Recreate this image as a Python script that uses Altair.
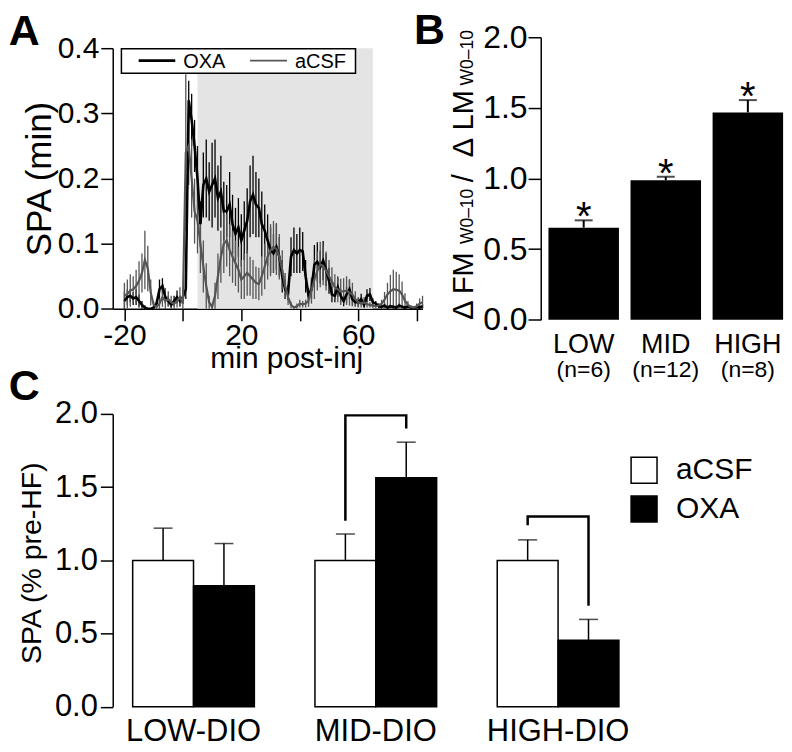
import altair as alt
import pandas as pd

FONT = "Liberation Sans"
GRAY = "#555555"
SHADE_COLOR = "#e4e4e4"

# ---------------- Panel A data ----------------
TIME = list(range(-20, 83))
OXA_MEAN = [
    0.012, 0.018, 0.020, 0.016, 0.018, 0.012, 0.006, 0.002, 0.000, 0.000,
    0.002, 0.008, 0.030, 0.035, 0.018, 0.012, 0.006, 0.012, 0.018, 0.012,
    0.018, 0.030, 0.320, 0.290, 0.250, 0.200, 0.130, 0.190, 0.200, 0.180,
    0.190, 0.200, 0.170, 0.180, 0.150, 0.150, 0.160, 0.130, 0.115, 0.125,
    0.105, 0.120, 0.135, 0.165, 0.175, 0.160, 0.155, 0.130, 0.120, 0.105,
    0.090, 0.085, 0.095, 0.080, 0.050, 0.030, 0.025, 0.080, 0.090, 0.085,
    0.090, 0.088, 0.050, 0.020, 0.030, 0.068, 0.072, 0.064, 0.074, 0.060,
    0.043, 0.022, 0.020, 0.033, 0.020, 0.012, 0.022, 0.030, 0.015, 0.010,
    0.010, 0.015, 0.006, 0.020, 0.022, 0.010, 0.008, 0.004, 0.003, 0.005,
    0.002, 0.004, 0.003, 0.002, 0.005, 0.003, 0.002, 0.004, 0.002, 0.001,
    0.003, 0.002, 0.004,
]
OXA_SEM = [
    0.015, 0.012, 0.010, 0.010, 0.012, 0.010, 0.006, 0.003, 0.001, 0.001,
    0.002, 0.006, 0.015, 0.012, 0.010, 0.008, 0.005, 0.008, 0.010, 0.008,
    0.010, 0.015, 0.030, 0.040, 0.040, 0.050, 0.035, 0.050, 0.060, 0.045,
    0.065, 0.060, 0.050, 0.055, 0.045, 0.040, 0.050, 0.045, 0.040, 0.045,
    0.040, 0.045, 0.050, 0.055, 0.060, 0.050, 0.045, 0.050, 0.040, 0.040,
    0.035, 0.030, 0.035, 0.030, 0.025, 0.015, 0.012, 0.030, 0.035, 0.030,
    0.035, 0.030, 0.025, 0.012, 0.015, 0.030, 0.030, 0.025, 0.030, 0.025,
    0.020, 0.012, 0.010, 0.015, 0.010, 0.008, 0.012, 0.015, 0.010, 0.006,
    0.006, 0.008, 0.004, 0.010, 0.010, 0.006, 0.004, 0.003, 0.002, 0.003,
    0.002, 0.003, 0.002, 0.002, 0.003, 0.002, 0.002, 0.003, 0.002, 0.001,
    0.002, 0.002, 0.003,
]
ACSF_MEAN = [
    0.020, 0.023, 0.028, 0.030, 0.035, 0.043, 0.055, 0.075, 0.062, 0.025,
    0.006, 0.003, 0.008, 0.018, 0.012, 0.015, 0.010, 0.008, 0.012, 0.018,
    0.008, 0.240, 0.250, 0.200, 0.150, 0.135, 0.100, 0.065, 0.035, 0.010,
    0.003, 0.020, 0.050, 0.080, 0.100, 0.105, 0.090, 0.080, 0.070, 0.060,
    0.045, 0.050, 0.055, 0.050, 0.045, 0.040, 0.038, 0.050, 0.065, 0.080,
    0.090, 0.095, 0.092, 0.080, 0.060, 0.035, 0.018, 0.006, 0.002, 0.004,
    0.008, 0.007, 0.008, 0.013, 0.028, 0.045, 0.058, 0.068, 0.066, 0.058,
    0.050, 0.042, 0.033, 0.030, 0.026, 0.027, 0.028, 0.025, 0.022, 0.015,
    0.010, 0.008, 0.010, 0.007, 0.006, 0.005, 0.004, 0.005, 0.008, 0.014,
    0.022, 0.027, 0.030, 0.029, 0.028, 0.022, 0.012, 0.006, 0.003, 0.002,
    0.004, 0.008, 0.010,
]
ACSF_SEM = [
    0.020, 0.022, 0.025, 0.020, 0.025, 0.030, 0.030, 0.045, 0.035, 0.020,
    0.005, 0.003, 0.008, 0.015, 0.020, 0.012, 0.010, 0.008, 0.010, 0.015,
    0.008, 0.120, 0.060, 0.060, 0.050, 0.050, 0.045, 0.040, 0.035, 0.010,
    0.003, 0.020, 0.035, 0.040, 0.045, 0.040, 0.040, 0.040, 0.035, 0.035,
    0.030, 0.035, 0.035, 0.030, 0.030, 0.025, 0.025, 0.030, 0.035, 0.035,
    0.040, 0.040, 0.040, 0.035, 0.030, 0.020, 0.012, 0.005, 0.002, 0.004,
    0.006, 0.005, 0.006, 0.010, 0.020, 0.030, 0.030, 0.035, 0.030, 0.030,
    0.025, 0.022, 0.020, 0.020, 0.020, 0.020, 0.022, 0.020, 0.018, 0.012,
    0.008, 0.006, 0.008, 0.005, 0.004, 0.004, 0.003, 0.004, 0.006, 0.012,
    0.018, 0.025, 0.030, 0.028, 0.025, 0.020, 0.012, 0.006, 0.003, 0.002,
    0.004, 0.008, 0.010,
]
SERIES = ["OXA", "aCSF"]
SHADE = [5, 65]
SHADE_TOP = 0.4
A_XTICKS = [-20, 0, 20, 40, 60, 80]
A_YTICKS = [0.0, 0.1, 0.2, 0.3, 0.4]

# ---------------- Panel B data ----------------
B_GROUPS = ["LOW", "MID", "HIGH"]
B_N = ["(n=6)", "(n=12)", "(n=8)"]
B_MEAN = [0.652, 0.988, 1.468]
B_SEM = [0.052, 0.024, 0.087]
B_YTICKS = [0.0, 0.5, 1.0, 1.5, 2.0]

# ---------------- Panel C data ----------------
C_GROUPS = ["LOW-DIO", "MID-DIO", "HIGH-DIO"]
C_TREAT = ["aCSF", "OXA"]
C_ACSF_MEAN = [1.0, 1.0, 1.0]
C_ACSF_SEM = [0.22, 0.18, 0.14]
C_OXA_MEAN = [0.826, 1.564, 0.454]
C_OXA_SEM = [0.289, 0.243, 0.143]
BRACKET_GROUP = ["MID-DIO"] * 4 + ["HIGH-DIO"] * 4
BRACKET_TREAT = ["aCSF", "aCSF", "OXA", "OXA"] * 2
BRACKET_Y = [1.27, 1.99, 1.99, 1.90, 1.24, 1.30, 1.30, 0.69]
BRACKET_ORDER = [0, 1, 2, 3] * 2
C_YTICKS = [0.0, 0.5, 1.0, 1.5, 2.0]

one = pd.DataFrame({"k": [0]})

# ================= Panel A =================
A_W, A_H = 310.6, 261.3
dfA = pd.concat([
    pd.DataFrame({"t": TIME, "series": "OXA", "mean": OXA_MEAN, "sem": OXA_SEM}),
    pd.DataFrame({"t": TIME, "series": "aCSF", "mean": ACSF_MEAN, "sem": ACSF_SEM}),
], ignore_index=True)
dfA["lo"] = (dfA["mean"] - dfA["sem"]).clip(lower=0)
dfA["hi"] = dfA["mean"] + dfA["sem"]

xA = alt.Scale(domain=[-24, 82], nice=False, zero=False)
yA = alt.Scale(domain=[0, 0.4], nice=False, zero=True)
colA = alt.Scale(domain=SERIES, range=["black", GRAY])
widA = alt.Scale(domain=SERIES, range=[2.6, 2.2])

axAx = alt.Axis(values=A_XTICKS, labelExpr="(datum.value + 20) % 40 == 0 ? toString(datum.value) : ''",
                tickSize=12, labelPadding=24, labelFontSize=30, labelBaseline="alphabetic",
                labelFlush=False, labelOverlap=False, title="min post-inj", titleFontSize=30,
                titleX=174, titleY=59, titleBaseline="alphabetic", titleAlign="center", grid=False)
axAy = alt.Axis(values=A_YTICKS, format=".1f", tickSize=12, labelPadding=2, labelFontSize=30,
                labelFlush=False, labelOverlap=False, title="SPA (min)", titleFontSize=35,
                titleX=-62, titleY=A_H / 2, titleAngle=270, titleBaseline="alphabetic",
                titleAlign="center", grid=False)

shade = alt.Chart(pd.DataFrame({"start": [SHADE[0]], "end": [SHADE[1]], "bottom": [0.0], "top": [SHADE_TOP]})).mark_rect(
    color=SHADE_COLOR).encode(
    x=alt.X("start:Q", scale=xA, axis=axAx),
    x2="end:Q",
    y=alt.Y("bottom:Q", scale=yA, axis=axAy),
    y2="top:Q",
)
errA = alt.Chart(dfA).mark_rule(strokeWidth=1.3).encode(
    x=alt.X("t:Q", scale=xA, axis=axAx),
    y=alt.Y("lo:Q", scale=yA, axis=axAy),
    y2="hi:Q",
    color=alt.Color("series:N", scale=colA, legend=None),
)
lineA = alt.Chart(dfA).mark_line().encode(
    x=alt.X("t:Q", scale=xA, axis=axAx),
    y=alt.Y("mean:Q", scale=yA, axis=axAy),
    color=alt.Color("series:N", scale=colA, legend=None),
    strokeWidth=alt.StrokeWidth("series:N", scale=widA, legend=None),
)

legBox = alt.Chart(one).mark_rect(fill="white", stroke="black", strokeWidth=1.5).encode(
    x=alt.value(8.7), x2=alt.value(243.4), y=alt.value(0.6), y2=alt.value(25))
legL1 = alt.Chart(one).mark_rule(color="black", strokeWidth=2.6).encode(
    x=alt.value(26), x2=alt.value(62.7), y=alt.value(12.5))
legL2 = alt.Chart(one).mark_rule(color=GRAY, strokeWidth=1.6).encode(
    x=alt.value(137.7), x2=alt.value(174.7), y=alt.value(12.5))
legT1 = alt.Chart(one).mark_text(text=SERIES[0], fontSize=20, align="left", baseline="alphabetic", color="black").encode(
    x=alt.value(70.7), y=alt.value(20))
legT2 = alt.Chart(one).mark_text(text=SERIES[1], fontSize=20, align="left", baseline="alphabetic", color="black").encode(
    x=alt.value(182.7), y=alt.value(20))
letterA = alt.Chart(one).mark_text(text="A", fontSize=43, fontWeight="bold", align="left", baseline="top", color="black").encode(
    x=alt.value(-104.3), y=alt.value(-37.7))

panelA = alt.layer(shade, errA, lineA, legBox, legL1, legL2, legT1, legT2, letterA).properties(width=A_W, height=A_H)

# ================= Panel B =================
B_W, B_H = 243, 283.3
dfB = pd.DataFrame({"group": B_GROUPS, "mean": B_MEAN, "sem": B_SEM, "n": B_N})
dfB["top"] = dfB["mean"] + dfB["sem"]
xB = alt.Scale(domain=B_GROUPS, paddingInner=0.141, paddingOuter=0.047, align=1)
yB = alt.Scale(domain=[0, 2], nice=False)
axBx = alt.Axis(domain=False, ticks=False, tickSize=0, labelPadding=33, labelBaseline="alphabetic",
                labelFontSize=27, labelAngle=0, title=None, grid=False)
axBy = alt.Axis(values=B_YTICKS, format=".1f", tickSize=12.7, labelPadding=1, labelFontSize=32,
                labelFlush=False, labelOverlap=False, title=None, grid=False)
xBenc = alt.X("group:N", scale=xB, sort=B_GROUPS, axis=axBx)

barsB = alt.Chart(dfB).mark_bar(color="black").encode(
    x=xBenc, y=alt.Y("mean:Q", scale=yB, axis=axBy))
errB = alt.Chart(dfB).mark_rule(color="black", strokeWidth=2).encode(
    x=xBenc, y=alt.Y("mean:Q", scale=yB, axis=axBy), y2="top:Q")
capB = alt.Chart(dfB).mark_tick(orient="horizontal", size=18, thickness=2, color="black").encode(
    x=xBenc, y=alt.Y("top:Q", scale=yB, axis=axBy))
starB = alt.Chart(dfB).mark_text(text="*", fontSize=40, baseline="alphabetic", dy=10, color="black").encode(
    x=xBenc, y=alt.Y("top:Q", scale=yB, axis=axBy))
nB = alt.Chart(dfB).mark_text(fontSize=23, baseline="alphabetic", color="black").encode(
    x=xBenc, y=alt.value(340.3), text="n:N")
titleB = alt.Chart(pd.DataFrame({
    "piece": ["Δ FM", "W0–10", "/", "Δ", "LM", "W0–10"],
    "pos": [283.3, 207.3, 145.3, 120.3, 93.3, 48.3],
    "size": [29, 17.5, 29, 29, 29, 17.5],
})).mark_text(angle=270, align="left", baseline="alphabetic", color="black").encode(
    x=alt.value(-68),
    y=alt.Y("pos:Q", scale=None),
    size=alt.Size("size:Q", scale=None, legend=None),
    text="piece:N",
)
letterB = alt.Chart(one).mark_text(text="B", fontSize=43, fontWeight="bold", align="left", baseline="top", color="black").encode(
    x=alt.value(-127), y=alt.value(-27.7))

panelB = alt.layer(barsB, errB, capB, starB, nB, titleB, letterB).properties(width=B_W, height=B_H)

# ================= Panel C =================
C_W, C_H = 527.5, 293.7
dfC = pd.DataFrame({
    "group": C_GROUPS * 2,
    "treatment": [C_TREAT[0]] * 3 + [C_TREAT[1]] * 3,
    "mean": C_ACSF_MEAN + C_OXA_MEAN,
    "sem": C_ACSF_SEM + C_OXA_SEM,
})
dfC["top"] = dfC["mean"] + dfC["sem"]
dfBr = pd.DataFrame({"group": BRACKET_GROUP, "treatment": BRACKET_TREAT, "y": BRACKET_Y, "order": BRACKET_ORDER})

xC = alt.Scale(domain=C_GROUPS, paddingInner=0.3324, paddingOuter=0.1094)
xoC = alt.Scale(domain=C_TREAT, paddingInner=0, paddingOuter=0)
yC = alt.Scale(domain=[0, 2], nice=False)
axCx = alt.Axis(domain=False, ticks=False, tickSize=0, labelPadding=34, labelBaseline="alphabetic",
                labelFontSize=31, labelAngle=0, title=None, grid=False)
axCy = alt.Axis(values=C_YTICKS, format=".1f", tickSize=12.4, labelPadding=3, labelFontSize=31,
                labelFlush=False, labelOverlap=False, title="SPA (% pre-HF)", titleFontSize=28.5,
                titleX=-72.3, titleY=149.2, titleAngle=270, titleBaseline="alphabetic",
                titleAlign="center", grid=False)
xCenc = alt.X("group:N", scale=xC, sort=C_GROUPS, axis=axCx)
xoCenc = alt.XOffset("treatment:N", scale=xoC, sort=C_TREAT)

barsC = alt.Chart(dfC).mark_bar(stroke="black", strokeWidth=1.5).encode(
    x=xCenc,
    xOffset=xoCenc,
    y=alt.Y("mean:Q", scale=yC, axis=axCy),
    fill=alt.Fill("treatment:N", scale=alt.Scale(domain=C_TREAT, range=["white", "black"]),
                  legend=alt.Legend(orient="none", legendX=517.7, legendY=41.4, title=None,
                                    symbolType="square", symbolSize=676, symbolStrokeColor="black",
                                    symbolStrokeWidth=1.5, labelFontSize=30, labelOffset=17,
                                    rowPadding=7, padding=0, labelColor="black")),
)
errC = alt.Chart(dfC).mark_rule(color="black", strokeWidth=1.5).encode(
    x=xCenc, xOffset=xoCenc, y=alt.Y("mean:Q", scale=yC, axis=axCy), y2="top:Q")
capC = alt.Chart(dfC).mark_tick(orient="horizontal", size=19, thickness=1.5, color="black").encode(
    x=xCenc, xOffset=xoCenc, y=alt.Y("top:Q", scale=yC, axis=axCy))
bracket = alt.Chart(dfBr).mark_line(color="black", strokeWidth=2.5).encode(
    x=xCenc, xOffset=xoCenc, y=alt.Y("y:Q", scale=yC, axis=axCy),
    detail="group:N", order="order:Q")
letterC = alt.Chart(one).mark_text(text="C", fontSize=43, fontWeight="bold", align="left", baseline="top", color="black").encode(
    x=alt.value(-104.3), y=alt.value(-48.3))

panelC = alt.layer(barsC, errC, capC, bracket, letterC).properties(width=C_W, height=C_H)

# ================= Assemble =================
top = alt.hconcat(panelA, panelB, spacing=118.1, bounds="flush", center=True)
chart = alt.vconcat(top, panelC, spacing=-17).resolve_scale(
    color="independent", fill="independent"
).properties(padding=0).configure(
    font=FONT
).configure_view(stroke=None).configure_axis(
    grid=False, domainColor="black", tickColor="black", labelColor="black", titleColor="black",
    domainWidth=1.5, tickWidth=1.5, labelFont=FONT, titleFont=FONT, titleFontWeight="normal",
).configure_legend(labelFont=FONT)

chart.save("out.html", embed_options={"renderer": "svg", "actions": False})
